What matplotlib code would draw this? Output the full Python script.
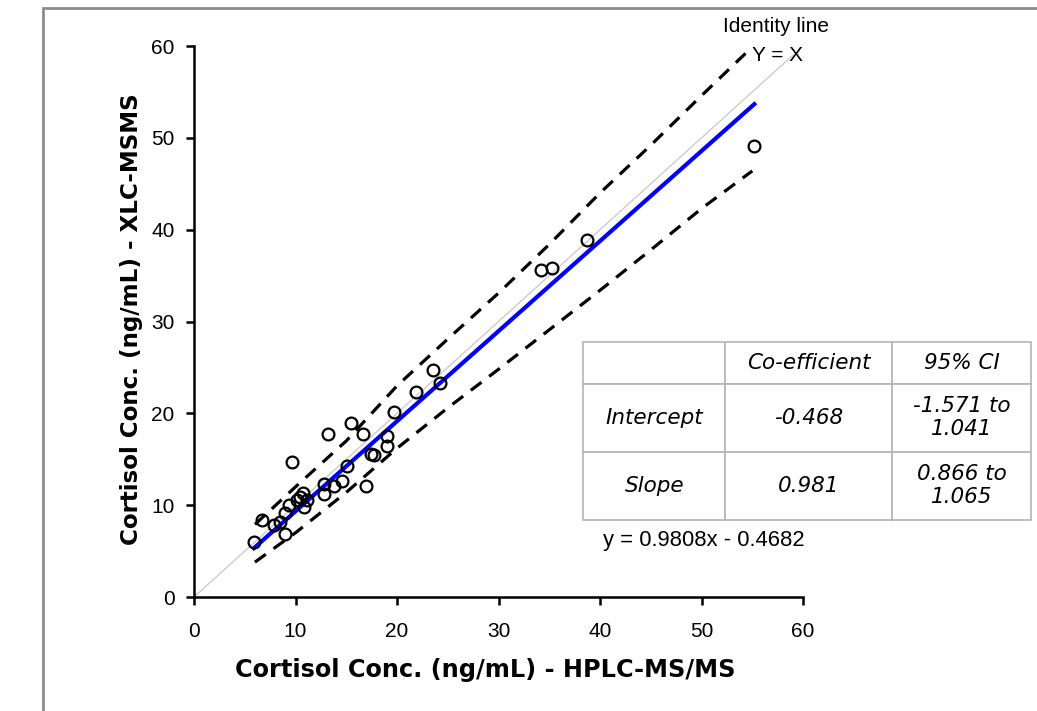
import numpy as np
import matplotlib
matplotlib.use('Agg')
import matplotlib.pyplot as plt
from matplotlib.patches import Rectangle

# cortisol, HPLC-MS/MS (x) vs XLC-MSMS (y), ng/mL
hplc = [5.9, 6.7, 7.9, 8.5, 9.0, 9.0, 9.4, 9.7, 10.1, 10.4, 10.7, 10.8, 11.1,
        12.8, 12.8, 13.2, 13.8, 14.6, 15.1, 15.5, 16.6, 16.9, 17.4, 17.7,
        19.0, 19.0, 19.7, 21.9, 23.5, 24.2, 34.2, 35.3, 38.7, 55.2]
xlc = [6.0, 8.4, 7.8, 8.2, 6.9, 9.2, 10.0, 14.7, 10.6, 10.9, 11.3, 9.8, 10.6,
       12.3, 11.2, 17.8, 12.1, 12.6, 14.3, 19.0, 17.8, 12.1, 15.6, 15.5,
       17.5, 16.4, 20.1, 22.3, 24.7, 23.3, 35.6, 35.8, 38.9, 49.1]

# regression: y = 0.9808x - 0.4682
slope = 0.9808
intercept = -0.4682
fit_x = [5.9, 55.2]

# confidence band (dashed)
band_x = [6.0, 10, 15, 20, 25, 30, 35, 40, 45, 50, 55]
band_hi = [7.9, 12.0, 17.0, 23.0, 28.1, 33.1, 38.4, 44.0, 49.2, 54.6, 59.9]
band_lo = [3.8, 7.0, 11.4, 16.2, 20.6, 24.8, 29.1, 33.4, 37.8, 42.3, 46.4]

ticks = [0, 10, 20, 30, 40, 50, 60]

col_labels = ['', 'Co-efficient', '95% CI']
rows = [['Intercept', '-0.468', '-1.571 to\n1.041'],
        ['Slope', '0.981', '0.866 to\n1.065']]

plt.rcParams['font.family'] = ['Liberation Sans', 'DejaVu Sans']

fig = plt.figure(figsize=(10.37, 7.11), dpi=100)
ax = fig.add_axes([0.1871, 0.1603, 0.5873, 0.775])

# outer grey frame, runs off the right and bottom edges
fig.add_artist(Rectangle((43 / 1037, -0.2), 1.2, 1.2 - 8 / 711,
                         transform=fig.transFigure, fill=False,
                         ec='#8c8c8c', lw=2, zorder=0))

ax.plot([0, 59], [0, 59], color='#c8c8c8', lw=0.9, zorder=1)
ax.plot(band_x, band_hi, color='black', lw=2.3, dashes=(4.2, 3.0), zorder=2)
ax.plot(band_x, band_lo, color='black', lw=2.3, dashes=(4.2, 3.0), zorder=2)
fx = np.array(fit_x)
ax.plot(fx, slope * fx + intercept, color='#0000ff', lw=3, zorder=3)
ax.plot(hplc, xlc, 'o', mfc='none', mec='black', mew=1.6, ms=8.5, zorder=4)

ax.set_xlim(0, 60)
ax.set_ylim(0, 60)
ax.set_xticks(ticks)
ax.set_yticks(ticks)
for s in ['top', 'right']:
    ax.spines[s].set_visible(False)
for s in ['left', 'bottom']:
    ax.spines[s].set_linewidth(1.8)
ax.tick_params(direction='out', length=6, width=1.8, labelsize=15)
ax.tick_params(axis='x', pad=12)
ax.tick_params(axis='y', pad=8)

xl = ax.set_xlabel('Cortisol Conc. (ng/mL) - HPLC-MS/MS', family='DejaVu Sans',
                   fontweight='bold', fontsize=17.3)
yl = ax.set_ylabel('Cortisol Conc. (ng/mL) - XLC-MSMS', family='DejaVu Sans',
                   fontweight='bold', fontsize=16.6)
xl.set_va('center')
yl.set_va('center')
ax.xaxis.set_label_coords(0.479, -0.1325)
ax.yaxis.set_label_coords(-0.1034, 0.5045)

ax.text(57.3, 62.1, 'Identity line', ha='center', va='center', fontsize=15,
        clip_on=False)
ax.text(57.5, 59.0, 'Y = X', ha='center', va='center', fontsize=15,
        clip_on=False)
ax.text(40.3, 6.2, 'y = 0.9808x - 0.4682', ha='left', va='center',
        fontsize=15.8, clip_on=False)

tab = ax.table(cellText=[col_labels] + rows, cellLoc='center',
               colWidths=[142, 167, 139],
               bbox=[0.639, 0.14, 0.7356, 0.323])
heights = [42, 68, 68]
for (r, c), cell in tab.get_celld().items():
    cell.set_height(heights[r])
    cell.set_edgecolor('#b4b4b4')
    cell.set_linewidth(1.2)
    cell.get_text().set_fontfamily('DejaVu Sans')
    cell.get_text().set_fontstyle('italic')
    cell.get_text().set_fontsize(15.5)
tab.auto_set_font_size(False)
tab.set_clip_on(False)

fig.savefig('out.png', dpi=100)
